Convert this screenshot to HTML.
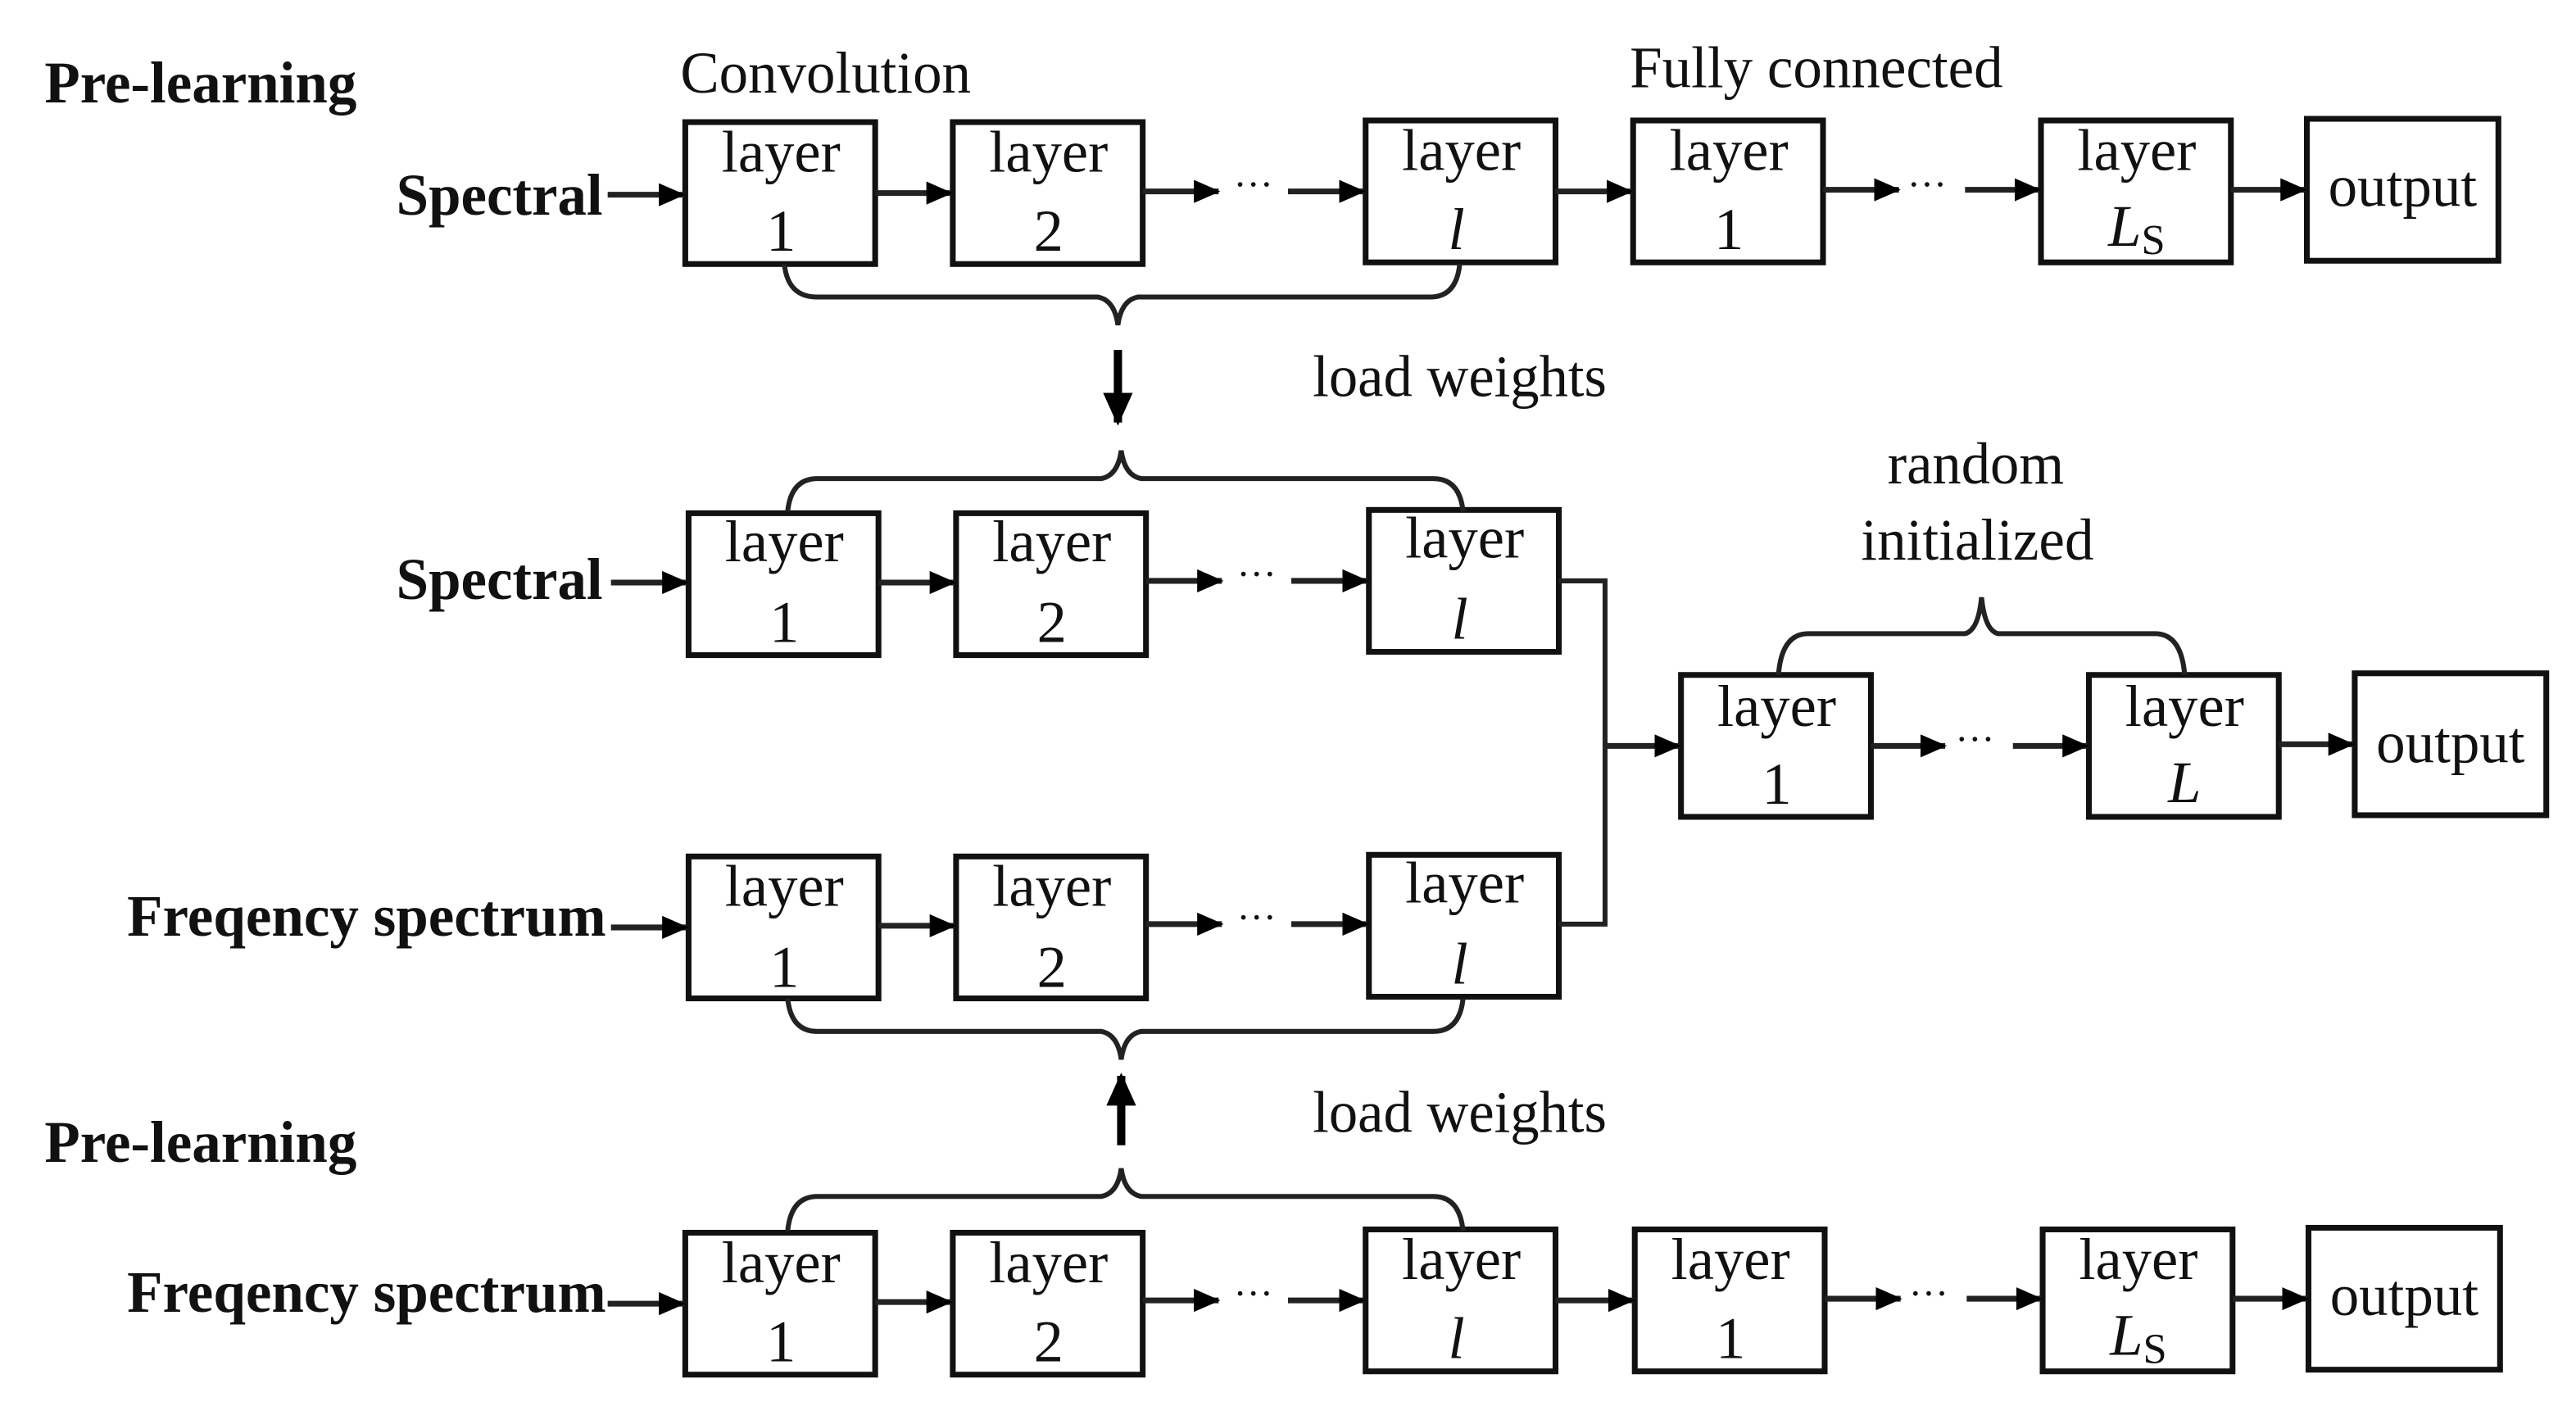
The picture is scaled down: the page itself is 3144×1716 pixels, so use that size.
<!DOCTYPE html>
<html><head><meta charset="utf-8">
<style>
html,body{margin:0;padding:0;background:#fff;}
svg{display:block;}
text{font-family:"Liberation Serif",serif;fill:#111;}
</style></head>
<body>
<svg width="3144" height="1716" viewBox="0 0 1560 852" preserveAspectRatio="none" xmlns="http://www.w3.org/2000/svg">
<defs>
<marker id="ah" markerWidth="16" markerHeight="14" refX="15" refY="7" orient="auto" markerUnits="userSpaceOnUse">
<path d="M0,0 L16,7 L0,14 z" fill="#000"/></marker>
<marker id="ah2" markerWidth="20" markerHeight="18" refX="18" refY="9" orient="auto" markerUnits="userSpaceOnUse">
<path d="M0,0 L20,9 L0,18 z" fill="#000"/></marker>
</defs>
<g font-size="36" lengthAdjust="spacingAndGlyphs">
<text x="27" y="62" font-weight="bold" textLength="189" lengthAdjust="spacingAndGlyphs">Pre-learning</text>
<text x="27" y="704" font-weight="bold" textLength="189" lengthAdjust="spacingAndGlyphs">Pre-learning</text>
<text x="240" y="130" font-weight="bold" textLength="125" lengthAdjust="spacingAndGlyphs">Spectral</text>
<text x="240" y="363" font-weight="bold" textLength="125" lengthAdjust="spacingAndGlyphs">Spectral</text>
<text x="77" y="567" font-weight="bold" textLength="290" lengthAdjust="spacingAndGlyphs">Freqency spectrum</text>
<text x="77" y="795" font-weight="bold" textLength="290" lengthAdjust="spacingAndGlyphs">Freqency spectrum</text>
<text x="412" y="56" textLength="176" lengthAdjust="spacingAndGlyphs">Convolution</text>
<text x="987" y="53" textLength="226" lengthAdjust="spacingAndGlyphs">Fully connected</text>
<text x="795" y="240" textLength="178" lengthAdjust="spacingAndGlyphs">load weights</text>
<text x="795" y="686" textLength="178" lengthAdjust="spacingAndGlyphs">load weights</text>
<text x="1143" y="293" textLength="107" lengthAdjust="spacingAndGlyphs">random</text>
<text x="1127" y="339" textLength="141" lengthAdjust="spacingAndGlyphs">initialized</text>
</g>
<g fill="none" stroke="#111" stroke-width="3.5">
<rect x="415" y="74" width="115" height="86"/><rect x="577" y="74" width="115" height="86"/>
<rect x="827" y="73" width="115" height="86"/><rect x="989" y="73" width="115" height="86"/>
<rect x="1236" y="73" width="115" height="86"/><rect x="1397" y="72" width="116" height="86"/>
<rect x="417" y="311" width="115" height="86"/><rect x="579" y="311" width="115" height="86"/>
<rect x="829" y="309" width="115" height="86"/>
<rect x="1018" y="409" width="115" height="86"/><rect x="1265" y="409" width="115" height="86"/>
<rect x="1426" y="408" width="116" height="86"/>
<rect x="417" y="519" width="115" height="86"/><rect x="579" y="519" width="115" height="86"/>
<rect x="829" y="518" width="115" height="86"/>
<rect x="415" y="747" width="115" height="86"/><rect x="577" y="747" width="115" height="86"/>
<rect x="827" y="745" width="115" height="86"/><rect x="990" y="745" width="115" height="86"/>
<rect x="1237" y="745" width="115" height="86"/><rect x="1398" y="744" width="116" height="86"/>
</g>
<g font-size="36" text-anchor="middle">
<text x="473" y="104" textLength="72" lengthAdjust="spacingAndGlyphs">layer</text><text x="473" y="152">1</text>
<text x="635" y="104" textLength="72" lengthAdjust="spacingAndGlyphs">layer</text><text x="635" y="152">2</text>
<text x="885" y="103" textLength="72" lengthAdjust="spacingAndGlyphs">layer</text><text x="882" y="151" font-style="italic">l</text>
<text x="1047" y="103" textLength="72" lengthAdjust="spacingAndGlyphs">layer</text><text x="1047" y="151">1</text>
<text x="1294" y="103" textLength="72" lengthAdjust="spacingAndGlyphs">layer</text><text x="1294" y="149" font-style="italic">L<tspan font-style="normal" font-size="26" dy="5">S</tspan></text>
<text x="1455" y="125" textLength="90" lengthAdjust="spacingAndGlyphs">output</text>
<text x="475" y="340" textLength="72" lengthAdjust="spacingAndGlyphs">layer</text><text x="475" y="389">1</text>
<text x="637" y="340" textLength="72" lengthAdjust="spacingAndGlyphs">layer</text><text x="637" y="389">2</text>
<text x="887" y="338" textLength="72" lengthAdjust="spacingAndGlyphs">layer</text><text x="884" y="387" font-style="italic">l</text>
<text x="1076" y="440" textLength="72" lengthAdjust="spacingAndGlyphs">layer</text><text x="1076" y="487">1</text>
<text x="1323" y="440" textLength="72" lengthAdjust="spacingAndGlyphs">layer</text><text x="1323" y="486" font-style="italic">L</text>
<text x="1484" y="462" textLength="90" lengthAdjust="spacingAndGlyphs">output</text>
<text x="475" y="549" textLength="72" lengthAdjust="spacingAndGlyphs">layer</text><text x="475" y="598">1</text>
<text x="637" y="549" textLength="72" lengthAdjust="spacingAndGlyphs">layer</text><text x="637" y="598">2</text>
<text x="887" y="547" textLength="72" lengthAdjust="spacingAndGlyphs">layer</text><text x="884" y="596" font-style="italic">l</text>
<text x="473" y="777" textLength="72" lengthAdjust="spacingAndGlyphs">layer</text><text x="473" y="825">1</text>
<text x="635" y="777" textLength="72" lengthAdjust="spacingAndGlyphs">layer</text><text x="635" y="825">2</text>
<text x="885" y="775" textLength="72" lengthAdjust="spacingAndGlyphs">layer</text><text x="882" y="823" font-style="italic">l</text>
<text x="1048" y="775" textLength="72" lengthAdjust="spacingAndGlyphs">layer</text><text x="1048" y="823">1</text>
<text x="1295" y="775" textLength="72" lengthAdjust="spacingAndGlyphs">layer</text><text x="1295" y="821" font-style="italic">L<tspan font-style="normal" font-size="26" dy="5">S</tspan></text>
<text x="1456" y="797" textLength="90" lengthAdjust="spacingAndGlyphs">output</text>
</g>
<g font-size="24"><text x="747" y="120">···</text><text x="1155" y="120">···</text>
<text x="749" y="356">···</text><text x="749" y="564">···</text><text x="1184" y="456">···</text>
<text x="747" y="792">···</text><text x="1156" y="792">···</text></g>
<g stroke="#222" stroke-width="3.5" fill="none" marker-end="url(#ah)">
<line x1="368" y1="118" x2="414" y2="118"/><line x1="530" y1="117" x2="576" y2="117"/>
<line x1="692" y1="116" x2="738" y2="116"/><line x1="780" y1="116" x2="826" y2="116"/>
<line x1="942" y1="116" x2="988" y2="116"/><line x1="1104" y1="115" x2="1150" y2="115"/>
<line x1="1190" y1="115" x2="1235" y2="115"/><line x1="1351" y1="115" x2="1396" y2="115"/>
<line x1="370" y1="353" x2="416" y2="353"/><line x1="532" y1="353" x2="578" y2="353"/>
<line x1="694" y1="352" x2="740" y2="352"/><line x1="782" y1="352" x2="828" y2="352"/>
<line x1="972" y1="452" x2="1017" y2="452"/><line x1="1133" y1="452" x2="1178" y2="452"/>
<line x1="1219" y1="452" x2="1264" y2="452"/><line x1="1380" y1="451" x2="1425" y2="451"/>
<line x1="370" y1="562" x2="416" y2="562"/><line x1="532" y1="561" x2="578" y2="561"/>
<line x1="694" y1="560" x2="740" y2="560"/><line x1="782" y1="560" x2="828" y2="560"/>
<line x1="368" y1="790" x2="414" y2="790"/><line x1="530" y1="789" x2="576" y2="789"/>
<line x1="692" y1="788" x2="738" y2="788"/><line x1="780" y1="788" x2="826" y2="788"/>
<line x1="942" y1="788" x2="989" y2="788"/><line x1="1105" y1="787" x2="1151" y2="787"/>
<line x1="1191" y1="787" x2="1236" y2="787"/><line x1="1352" y1="787" x2="1397" y2="787"/>
</g>
<g stroke="#222" stroke-width="3" fill="none">
<polyline points="944,352 972,352 972,560 944,560"/>
<path d="M475,160 Q477,180 495,180 L665,180 Q675,182 677,197 Q679,182 689,180 L866,180 Q882,180 884,160"/>
<path d="M477,310 Q479,290 495,290 L667,290 Q677,288 679,273 Q681,288 691,290 L868,290 Q884,290 886,310"/>
<path d="M1077,409 Q1079,384 1095,384 L1190,384 Q1198,382 1200,362 Q1202,382 1210,384 L1305,384 Q1321,384 1323,409"/>
<path d="M477,605 Q479,625 495,625 L667,625 Q677,627 679,642 Q681,627 691,625 L868,625 Q884,625 886,605"/>
<path d="M477,746 Q479,725 495,725 L667,725 Q677,723 679,708 Q681,723 691,725 L868,725 Q884,725 886,746"/>
</g>
<g stroke="#000" stroke-width="5" fill="none">
<line x1="677" y1="212" x2="677" y2="256" marker-end="url(#ah2)"/>
<line x1="679" y1="694" x2="679" y2="652" marker-end="url(#ah2)"/>
</g>
</svg>
</body></html>
